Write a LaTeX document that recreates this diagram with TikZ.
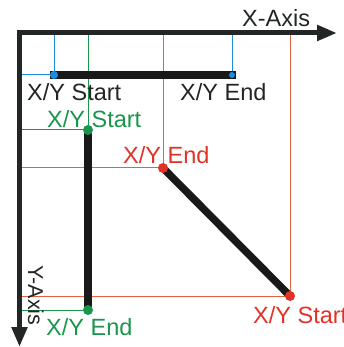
\documentclass[tikz,border=0pt]{standalone}
\usepackage{fontspec}
\setmainfont{Liberation Sans}
\usetikzlibrary{arrows.meta}

\definecolor{axisgray}{RGB}{35,38,38}
\definecolor{barblack}{RGB}{25,25,25}
\definecolor{xyblue}{RGB}{30,140,220}
\definecolor{xygreen}{RGB}{25,150,75}
\definecolor{xyred}{RGB}{225,50,40}
\definecolor{guidered}{RGB}{232,95,60}

\begin{document}
\begin{tikzpicture}[x=1pt,y=-1pt,
    axis/.style={line width=5pt,draw=axisgray,{Triangle[length=20pt,width=15pt]}-{Triangle[length=20pt,width=15pt]}},
    bar/.style={line width=7.5pt,draw=barblack},
    guide/.style={line width=1pt},
    dot/.style={circle,inner sep=0pt,minimum size=#1},
    dot/.default=10pt,
    lbl/.style={inner sep=0pt,anchor=base west,font=\fontsize{23.5}{28}\selectfont}]
    \useasboundingbox (0,0) rectangle (343,347);

    % axis corner and tips
    \coordinate (origin) at (19.5,33);
    \coordinate (x-tip) at (337,33);
    \coordinate (y-tip) at (19.5,347);

    % the three segments
    \coordinate (h-start) at (54,75);
    \coordinate (h-end) at (232,75);
    \coordinate (v-start) at (88,130);
    \coordinate (v-end) at (88,310);
    \coordinate (d-end) at (163,168);
    \coordinate (d-start) at (290,296);

    % guide lines to the axes
    \draw[guide,xyblue] (h-start) -- (h-start |- origin);
    \draw[guide,xyblue] (h-start) -- (h-start -| origin);
    \draw[guide,xyblue] (h-end) -- (h-end |- origin);
    \draw[guide,xygreen] (v-start) -- (v-start |- origin);
    \draw[guide,xygreen] (v-start) -- (v-start -| origin);
    \draw[guide,xygreen] (v-end) -- (v-end -| origin);
    \draw[guide,guidered] (d-end) -- (d-end |- origin);
    \draw[guide,guidered] (d-end) -- (d-end -| origin);
    \draw[guide,guidered] (d-start) -- (d-start |- origin);
    \draw[guide,guidered] (d-start) -- (d-start -| origin);

    \draw[axis] (x-tip) -- (origin) -- (y-tip);

    \draw[bar,line cap=rect] (h-start) -- (h-end);
    \draw[bar] (v-start) -- (v-end);
    \draw[bar] (d-end) -- (d-start);

    \node[dot=8pt,fill=xyblue] (h-start-dot) at (h-start) {};
    \node[dot=6pt,fill=xyblue] (h-end-dot) at (h-end) {};
    \node[dot,fill=xygreen] (v-start-dot) at (v-start) {};
    \node[dot,fill=xygreen] (v-end-dot) at (v-end) {};
    \node[dot,fill=xyred] (d-end-dot) at (d-end) {};
    \node[dot,fill=xyred] (d-start-dot) at (d-start) {};

    % labels
    \node[lbl,text=axisgray] (x-label) at (242,27) {X-Axis};
    \node[lbl,text=axisgray,rotate=-90,font=\fontsize{21.5}{26}\selectfont] (y-label) at (28,265) {Y-Axis};
    \node[lbl,text=axisgray] (h-start-lbl) at (27,101) {X/Y Start};
    \node[lbl,text=axisgray] (h-end-lbl) at (180,101) {X/Y End};
    \node[lbl,text=xygreen] (v-start-lbl) at (47,128) {X/Y Start};
    \node[lbl,text=xygreen] (v-end-lbl) at (46,335) {X/Y End};
    \node[lbl,text=xyred] (d-end-lbl) at (123,164) {X/Y End};
    \node[lbl,text=xyred] (d-start-lbl) at (253,323) {X/Y Start};
\end{tikzpicture}
\end{document}
